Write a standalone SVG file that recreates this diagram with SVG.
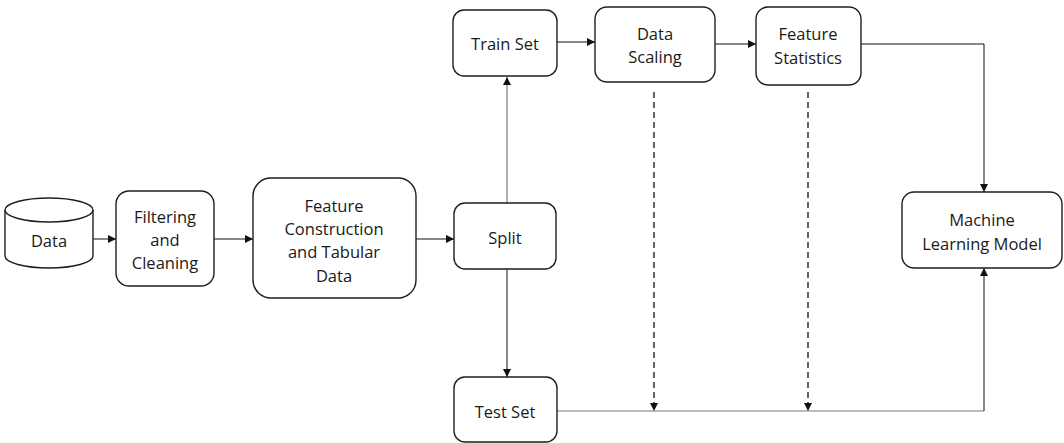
<svg xmlns="http://www.w3.org/2000/svg" width="1064" height="443" viewBox="0 0 1064 443">
<style>
.box{fill:#fff;stroke:#1e1e1e;stroke-width:1.4}
.t{font-family:"Open Sans","Liberation Sans",sans-serif;font-size:16.5px;fill:#1a1a1a;text-anchor:middle;dominant-baseline:central}
.c{fill:none;stroke:#111;stroke-width:1}
.g{fill:none;stroke:#7a7a7a;stroke-width:1.2}
.d{fill:none;stroke:#111;stroke-width:1.3;stroke-dasharray:6,4}
</style>
<defs>
<marker id="ah" viewBox="0 0 10 10" refX="10" refY="5" markerWidth="8" markerHeight="8" markerUnits="userSpaceOnUse" orient="auto">
<path d="M0,0 L10,5 L0,10 z" fill="#111"/>
</marker>
</defs>
<g id="connectors">
<path class="c" d="M93,239 H116" marker-end="url(#ah)"/>
<path class="c" d="M214,239 H253" marker-end="url(#ah)"/>
<path class="c" d="M416,239 H454" marker-end="url(#ah)"/>
<path class="g" d="M507,203 V77" marker-end="url(#ah)"/>
<path class="c" d="M507,269 V377" marker-end="url(#ah)"/>
<path class="c" d="M557,42 H595" marker-end="url(#ah)"/>
<path class="c" d="M715,44 H756" marker-end="url(#ah)"/>
<path class="c" d="M861,44 H984 V192" marker-end="url(#ah)"/>
<path class="g" d="M557,411 H984"/>
<path class="c" d="M984,411 V268" marker-end="url(#ah)"/>
<path class="d" d="M654,92 V411" marker-end="url(#ah)"/>
<path class="d" d="M808,92 V411" marker-end="url(#ah)"/>
</g>
<g id="data">
<path class="box" d="M5,210 V256 A44,12 0 0 0 93,256 V210"/>
<ellipse class="box" cx="49" cy="210" rx="44" ry="12"/>
<text class="t" x="49" y="240">Data</text>
</g>
<g id="filtering">
<rect class="box" x="116" y="191" width="98" height="95" rx="13"/>
<text class="t" x="165" y="216">Filtering</text>
<text class="t" x="165" y="239">and</text>
<text class="t" x="165" y="262">Cleaning</text>
</g>
<g id="feature-construction">
<rect class="box" x="253" y="178" width="163" height="120" rx="18"/>
<text class="t" x="334" y="205">Feature</text>
<text class="t" x="334" y="228">Construction</text>
<text class="t" x="334" y="251">and Tabular</text>
<text class="t" x="334" y="275">Data</text>
</g>
<g id="split">
<rect class="box" x="454" y="203" width="102" height="66" rx="11"/>
<text class="t" x="505" y="237">Split</text>
</g>
<g id="train-set">
<rect class="box" x="453" y="10" width="104" height="66" rx="11"/>
<text class="t" x="505" y="43">Train Set</text>
</g>
<g id="data-scaling">
<rect class="box" x="595" y="7" width="120" height="75" rx="12"/>
<text class="t" x="655" y="33">Data</text>
<text class="t" x="655" y="56">Scaling</text>
</g>
<g id="feature-statistics">
<rect class="box" x="756" y="7" width="105" height="78" rx="12"/>
<text class="t" x="808" y="33">Feature</text>
<text class="t" x="808" y="57">Statistics</text>
</g>
<g id="ml-model">
<rect class="box" x="902" y="192" width="160" height="76" rx="12"/>
<text class="t" x="982" y="219">Machine</text>
<text class="t" x="982" y="243">Learning Model</text>
</g>
<g id="test-set">
<rect class="box" x="454" y="377" width="103" height="65" rx="11"/>
<text class="t" x="505" y="411">Test Set</text>
</g>
</svg>
